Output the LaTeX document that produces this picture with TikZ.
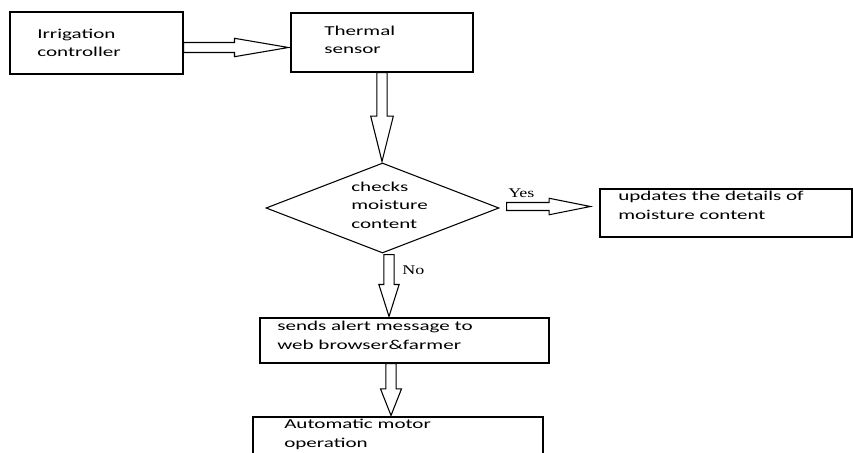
\documentclass[tikz,border=0pt]{standalone}
\usepackage{fontspec}
\setmainfont{Carlito}[FakeStretch=1.55]
\newfontfamily\yesnofont{Liberation Serif}[FakeStretch=1.35]
\usetikzlibrary{calc,shapes.geometric}

\tikzset{
  box/.style={draw, line width=0.8pt, rectangle, inner sep=0pt},
  % anchored at the baseline of the last line
  txt/.style={anchor=base west, align=left, inner sep=0pt,
              font=\fontsize{10.2}{13.6}\selectfont},
  lbl/.style={anchor=base west, inner sep=0pt,
              font=\yesnofont\fontsize{10}{12}\selectfont},
  blk/.style={draw, line width=0.8pt, fill=white, line join=miter},
}

% hollow block arrow pointing right: start, tip, shaft half width, head half width, head length
\newcommand\blockright[5]{%
  \draw[blk] let \p1=(#1), \p2=(#2) in
    (\x1,\y1+#3) -- (\x2-#5,\y1+#3) -- (\x2-#5,\y1+#4) -- (\x2,\y1) --
    (\x2-#5,\y1-#4) -- (\x2-#5,\y1-#3) -- (\x1,\y1-#3) -- cycle;}
% hollow block arrow pointing down
\newcommand\blockdown[5]{%
  \draw[blk] let \p1=(#1), \p2=(#2) in
    (\x1-#3,\y1) -- (\x1-#3,\y2+#5) -- (\x1-#4,\y2+#5) -- (\x1,\y2) --
    (\x1+#4,\y2+#5) -- (\x1+#3,\y2+#5) -- (\x1+#3,\y1) -- cycle;}

\begin{document}
\begin{tikzpicture}[x=0.75pt, y=-0.75pt]
  \useasboundingbox (0,0) rectangle (853,453);
  \clip (0,0) rectangle (853,453);

  % boxes
  \node[box, minimum width=129.75pt, minimum height=46.5pt]  (b1) at (96.5,43)   {};
  \node[box, minimum width=136.5pt,  minimum height=44.25pt] (b2) at (382,42.5)  {};
  \node[draw, line width=0.8pt, shape=diamond, inner sep=0pt,
        minimum width=174.75pt, minimum height=67.5pt]        (dia) at (382.5,208) {};
  \node[box, minimum width=189pt,    minimum height=36pt]    (b3) at (726,213)   {};
  \node[box, minimum width=216.75pt, minimum height=33.75pt] (b4) at (404.5,340.5) {};
  \node[box, minimum width=217.5pt,  minimum height=47.25pt] (b5) at (398,448.5) {};

  % connector end points
  \coordinate (a1s) at ($(b1.east)+(0,4.5)$);
  \coordinate (a1e) at ($(b2.west)+(-2,4.5)$);
  \coordinate (a2s) at (b2.south);
  \coordinate (a2e) at ($(dia.north)+(0,-1)$);
  \coordinate (a3s) at ($(dia.east)+(7,-1.5)$);
  \coordinate (a3e) at ($(b3.west)+(-9,-6.5)$);
  \coordinate (a4s) at ($(dia.south)+(6.5,1)$);
  \coordinate (a4e) at ($(b4.north)+(-15.5,-1)$);
  \coordinate (a5s) at ($(b4.south)+(-13.5,0)$);
  \coordinate (a5e) at ($(b5.north)+(-7,-1)$);

  % block arrows
  \blockright{a1s}{a1e}{3.75pt}{6.9pt}{40.5pt}
  \blockdown{a2s}{a2e}{3.8pt}{8.5pt}{34pt}
  \blockright{a3s}{a3e}{3pt}{6.2pt}{31pt}
  \blockdown{a4s}{a4e}{3.8pt}{7.6pt}{24pt}
  \blockdown{a5s}{a5e}{3.8pt}{7.9pt}{20pt}

  % texts
  \node[txt] (t1) at (37,57)   {Irrigation\\controller};
  \node[txt] (t2) at (324,54)  {Thermal\\sensor};
  \node[txt] (t3) at (351,228) {checks\\moisture\\content};
  \node[txt] (t4) at (618,219) {updates the details of\\moisture content};
  \node[txt] (t5) at (277,349) {sends alert message to\\web browser\&farmer};
  \node[txt] (t6) at (284,447) {Automatic motor\\operation};
  \node[lbl] (yes) at (508,197) {Yes};
  \node[lbl] (no)  at (402,274) {No};
\end{tikzpicture}
\end{document}
